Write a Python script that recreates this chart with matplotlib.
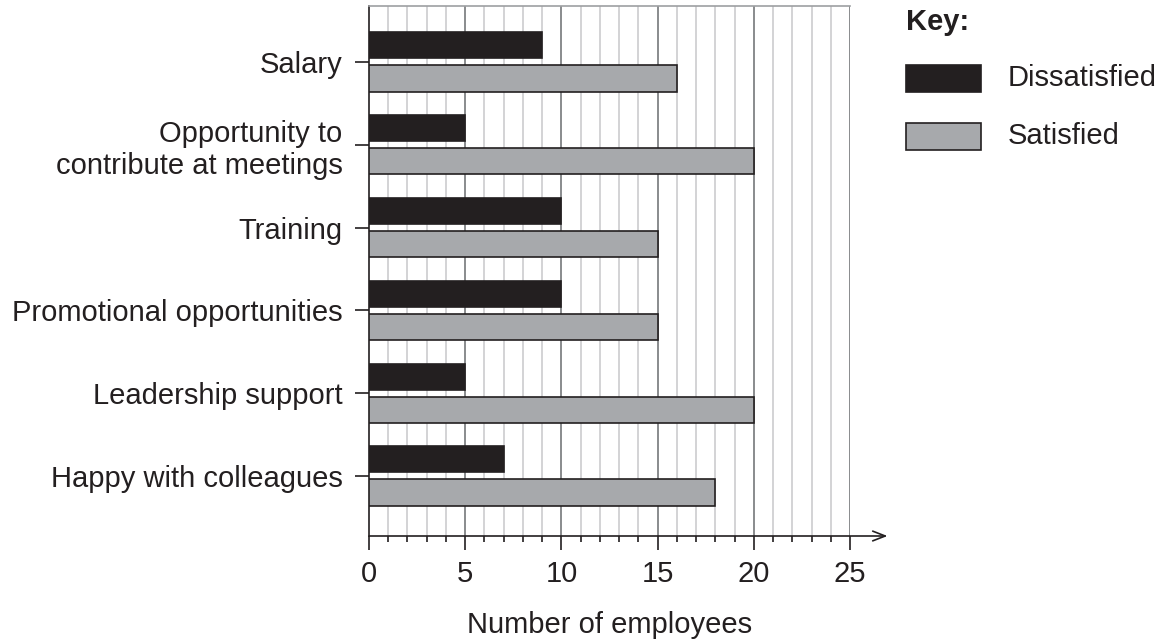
import matplotlib

matplotlib.use("Agg")
import matplotlib.pyplot as plt
from matplotlib.patches import Rectangle

plt.rcParams["font.family"] = ["Liberation Sans", "DejaVu Sans"]

categories = [
    "Salary",
    "Opportunity to\ncontribute at meetings",
    "Training",
    "Promotional opportunities",
    "Leadership support",
    "Happy with colleagues",
]
dissatisfied = [9, 5, 10, 10, 5, 7]
satisfied = [16, 20, 15, 15, 20, 18]
series_names = ["Dissatisfied", "Satisfied"]
x_ticks = [0, 5, 10, 15, 20, 25]

DARK = "#231f20"
GREY = "#a7a9ac"
W, H = 1164, 640
FS = 21

fig = plt.figure(figsize=(W / 100, H / 100), dpi=100)
ax = fig.add_axes([369 / W, 1 - 536 / H, 481 / W, 530 / H])

n = len(categories)
pos = [n - 1 - i for i in range(n)]
bh = 0.315
ax.barh([p + 0.2 for p in pos], dissatisfied, height=bh, color=DARK,
        edgecolor=DARK, linewidth=1.2, zorder=3)
ax.barh([p - 0.2 for p in pos], satisfied, height=bh, color=GREY,
        edgecolor=DARK, linewidth=1.2, zorder=3)

ax.set_xlim(0, 25)
ax.set_ylim(-0.725, n - 1 + 0.675)

# grid: light every unit, darker every five
for v in range(1, 26):
    major = v % 5 == 0
    ax.axvline(v, color="#808285" if major else "#c7c8ca",
               lw=1.3 if major else 1.1, zorder=1)

for s in ["right", "bottom"]:
    ax.spines[s].set_visible(False)
ax.spines["top"].set_color("#9d9fa2")
ax.spines["top"].set_linewidth(1.2)
ax.spines["left"].set_color(DARK)
ax.spines["left"].set_linewidth(1.2)

# x axis with arrow
ax.annotate("", xy=(26.95, ax.get_ylim()[0]), xytext=(0, ax.get_ylim()[0]),
            xycoords="data", annotation_clip=False,
            arrowprops=dict(arrowstyle="->,head_length=0.9,head_width=0.35",
                            color=DARK, lw=1.2, shrinkA=0, shrinkB=0))

ax.set_xticks(x_ticks)
ax.set_xticks(range(26), minor=True)
ax.tick_params(axis="x", which="major", length=10, width=1.2, color=DARK,
               labelsize=FS, pad=7, labelcolor=DARK)
ax.tick_params(axis="x", which="minor", length=4, width=1.2, color=DARK)

ax.set_yticks(pos)
ax.set_yticklabels(categories, linespacing=1.2)
ax.tick_params(axis="y", length=10, width=1.2, color=DARK, labelsize=FS,
               pad=9, labelcolor=DARK)

ax.set_xlabel("Number of employees", fontsize=FS, labelpad=17, color=DARK)

# key
fig.text(906 / W, 1 - 22 / H, "Key:", fontsize=FS, fontweight="bold",
         va="center", ha="left", color=DARK)
for i, (name, fc) in enumerate(zip(series_names, [DARK, GREY])):
    y0 = 65 + i * 58
    fig.add_artist(Rectangle((906 / W, 1 - (y0 + 27) / H), 75 / W, 27 / H,
                             transform=fig.transFigure, facecolor=fc,
                             edgecolor=DARK, linewidth=1.2))
    fig.text(1008 / W, 1 - (y0 + 13.5) / H, name, fontsize=FS, va="center",
             ha="left", color=DARK)

fig.savefig("out.png", dpi=100, facecolor="white")
